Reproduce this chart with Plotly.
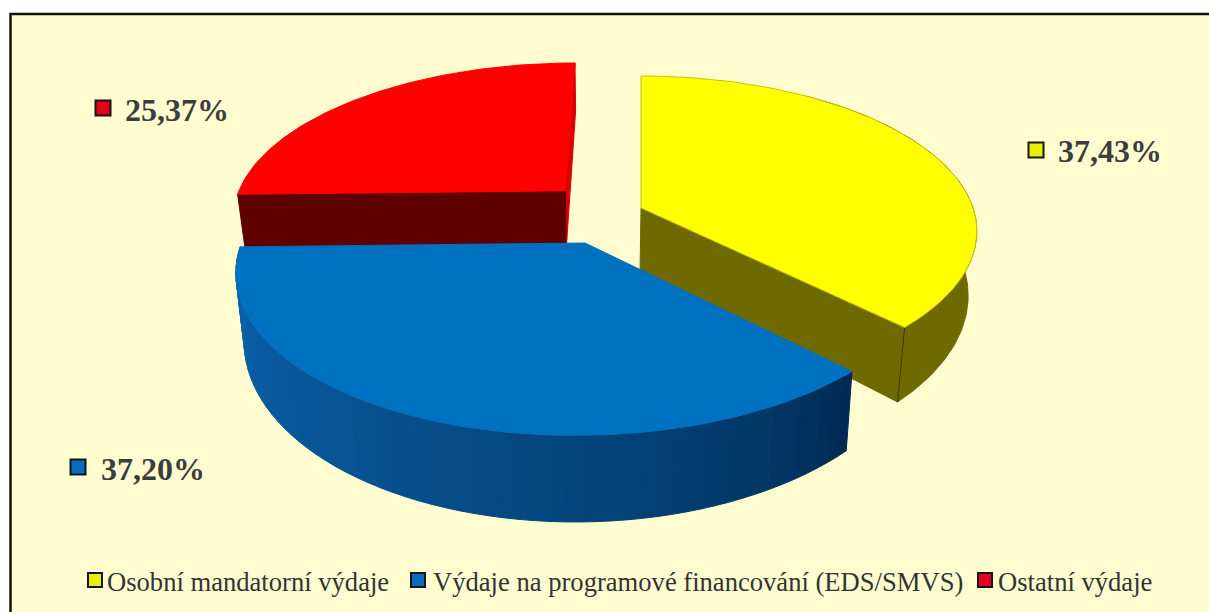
import numpy as np
import plotly.graph_objects as go

# -------------------------------------------------------
# Data
# -------------------------------------------------------
categorias = ["Osobní mandatorní výdaje", "Výdaje na programové financování (EDS/SMVS)", "Ostatní výdaje"]
valores = [37.43, 37.20, 25.37]
colores_top = ["#ffff00", "#0070c0", "#ff0000"]
colores_key = ["#e6f000", "#0a6cc0", "#e60020"]

# where each exploded slice's tip sits on the disc plane (yellow, blue, red)
apex_u = [0.0, -0.163, -0.232]
apex_v = [0.0, 0.223, -0.115]

# -------------------------------------------------------
# Fake 3D: perspective projection of a disc, in page pixels
# -------------------------------------------------------
CX, CY = 641, 208
A, B, P = 332, 151.8, 0.15
DEPTH, DEPTH_POW = 62, 1.65


def proj_top(u, v):
    return CX + A * u / (1 - P * v), CY + B * v / (1 - P * v)


def proj_bottom(u, v):
    x, y = proj_top(u, v)
    return 600 + (x - 600) * 0.977, y + DEPTH / (1 - P * v) ** DEPTH_POW


def arc(i, t0, t1, n=80):
    t = np.linspace(t0, t1, n)
    return apex_u[i] + np.sin(t), apex_v[i] - np.cos(t)


def poly(fig, x, y, color, line=None):
    fig.add_trace(go.Scatter(
        x=list(x) + [x[0]], y=list(y) + [y[0]], mode="lines", fill="toself",
        fillcolor=color, line=dict(color=line or color, width=1),
        hoverinfo="skip", showlegend=False,
    ))


def wall(fig, i, u, v, color):
    xt, yt = proj_top(np.asarray(u), np.asarray(v))
    xb, yb = proj_bottom(np.asarray(u), np.asarray(v))
    poly(fig, np.r_[xt, xb[::-1]], np.r_[yt, yb[::-1]], color)


def top(fig, i, t0, t1, color, line=None):
    u, v = arc(i, t0, t1)
    x, y = proj_top(np.r_[apex_u[i], u], np.r_[apex_v[i], v])
    poly(fig, x, y, color, line)


cortes = np.r_[0, np.cumsum(valores)] / sum(valores) * 2 * np.pi
fig = go.Figure()

# red slice (back)
t0, t1 = cortes[2], cortes[3]
u, v = arc(2, t1, t1, 2)
wall(fig, 2, [apex_u[2], u[0]], [apex_v[2], v[0]], "#d80000")
u, v = arc(2, t0, t0, 2)
wall(fig, 2, [apex_u[2], u[0]], [apex_v[2], v[0]], "#5f0000")
top(fig, 2, t0, t1, colores_top[2])

# yellow slice (outer side starts past the back, that part is hidden anyway)
t0, t1 = cortes[0], cortes[1]
u, v = arc(0, t0 + 0.6, t1)
wall(fig, 0, u, v, "#6f6a00")
ue, ve = arc(0, t1, t1, 2)
wall(fig, 0, [apex_u[0], ue[0]], [apex_v[0], ve[0]], "#6f6a00")
xa, ya = proj_top(ue[0], ve[0])
xb, yb = proj_bottom(ue[0], ve[0])
fig.add_trace(go.Scatter(x=[xa, xb], y=[ya, yb], mode="lines", hoverinfo="skip", showlegend=False,
                         line=dict(color="#3a3800", width=1)))
top(fig, 0, t0, t1, colores_top[0], "#c8c000")

# blue slice: outer side in strips to get the gradient
t0, t1 = cortes[1], cortes[2]
tiras = np.linspace(t0, t1, 61)
for k in range(60):
    f = (k / 59) ** 0.7
    # dark navy on the right, lighter blue on the left
    r = int(0 + 10 * f)
    g = int(42 + 58 * f)
    b = int(82 + 92 * f)
    u, v = arc(1, tiras[k], tiras[k + 1], 4)
    wall(fig, 1, u, v, f"rgb({r},{g},{b})")
top(fig, 1, t0, t1, colores_top[1])

# -------------------------------------------------------
# Keys and labels
# -------------------------------------------------------
key_x = [1036, 78, 103, 95, 418, 985]
key_y = [150, 467, 108, 580, 580, 580]
key_size = [15, 15, 15, 14, 14, 14]
fig.add_trace(go.Scatter(
    x=key_x, y=key_y, mode="markers", hoverinfo="skip", showlegend=False,
    marker=dict(symbol="square", size=key_size, color=colores_key + colores_key, opacity=1,
                line=dict(color="#151515", width=2)),
))

etiquetas = [f"{val:.2f}%".replace(".", ",") for val in valores]
anotaciones = [
    dict(x=1057, y=151, text=etiquetas[0], font=dict(size=32, color="#3d3d3d")),
    dict(x=100, y=469, text=etiquetas[1], font=dict(size=32, color="#3d3d3d")),
    dict(x=124, y=110, text=etiquetas[2], font=dict(size=32, color="#3d3d3d")),
    dict(x=106, y=582, text=categorias[0], font=dict(size=26.6, color="#333333")),
    dict(x=432, y=582, text=categorias[1], font=dict(size=26.6, color="#333333")),
    dict(x=997, y=582, text=categorias[2], font=dict(size=26.6, color="#333333")),
]
for a in anotaciones:
    fig.add_annotation(xref="x", yref="y", xanchor="left", yanchor="middle", showarrow=False,
                       borderpad=0, **{**a, "font": dict(family="Liberation Serif", **a["font"],
                                                          weight="bold" if "%" in a["text"] else "normal")})

fig.update_layout(
    width=1209, height=612, margin=dict(l=0, r=0, t=0, b=0),
    paper_bgcolor="white", plot_bgcolor="white", showlegend=False,
    xaxis=dict(range=[0, 1209], visible=False, fixedrange=True),
    yaxis=dict(range=[612, 0], visible=False, fixedrange=True),
    shapes=[dict(type="rect", xref="x", yref="y", x0=10.5, y0=14, x1=1230, y1=640,
                 fillcolor="#fffdd0", line=dict(color="#111111", width=2.5), layer="below")],
)

# drop the page's 8 px body margin so the figure fills the window
fig.write_html("out.html", config=dict(displayModeBar=False),
               post_script="document.body.style.margin='0';")
